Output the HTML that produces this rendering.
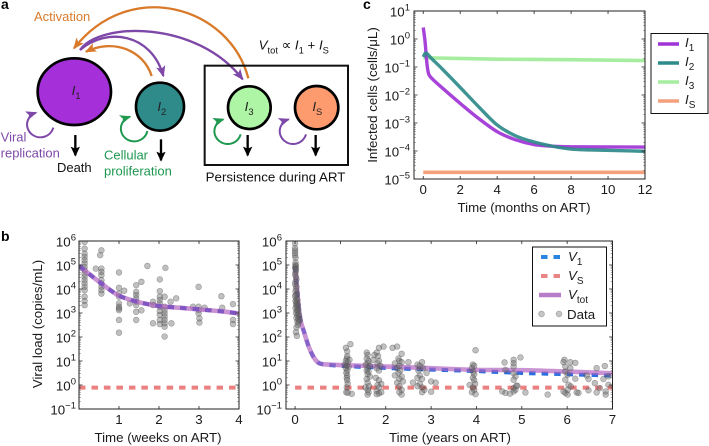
<!DOCTYPE html>
<html lang="en">
<head>
<meta charset="utf-8">
<title>HIV infected-cell model figure</title>
<style>
html,body{margin:0;padding:0;background:#fff;}
svg{display:block;font-family:"Liberation Sans",sans-serif;fill:#1a1a1a;filter:blur(0.3px);}
</style>
</head>
<body>
<svg id="fig" width="709" height="446" viewBox="0 0 709 446" xmlns="http://www.w3.org/2000/svg">
<defs>
<marker id="mo" markerUnits="userSpaceOnUse" markerWidth="40" markerHeight="40" refX="30" refY="14" orient="auto"><path d="M0 0L34 14L0 28L8 14Z" fill="#d97a2b"/></marker>
<marker id="mp" markerUnits="userSpaceOnUse" markerWidth="40" markerHeight="40" refX="30" refY="14" orient="auto"><path d="M0 0L34 14L0 28L8 14Z" fill="#7d48a8"/></marker>
<marker id="mg" markerUnits="userSpaceOnUse" markerWidth="40" markerHeight="40" refX="30" refY="14" orient="auto"><path d="M0 0L34 14L0 28L8 14Z" fill="#1f9850"/></marker>
<marker id="mk" markerUnits="userSpaceOnUse" markerWidth="40" markerHeight="40" refX="26" refY="14" orient="auto"><path d="M0 0L30 14L0 28L6 14Z" fill="#000"/></marker>
<clipPath id="clip-c"><rect x="414" y="11" width="231" height="168"/></clipPath>
<clipPath id="clip-bl"><rect x="79" y="241" width="160" height="168"/></clipPath>
<clipPath id="clip-br"><rect x="286" y="241" width="327" height="168"/></clipPath>
</defs>

<text x="1" y="9" font-size="14" font-weight="bold" fill="#000">a</text>
<text x="1" y="241" font-size="14" font-weight="bold" fill="#000">b</text>
<text x="363" y="9" font-size="14" font-weight="bold" fill="#000">c</text>

<g transform="scale(0.33333)">
  <path d="M745 235C690 20 390 -70 222 145" fill="none" stroke="#d97a2b" stroke-width="7" marker-end="url(#mo)"/>
  <path d="M240 150C300 65 590 60 728 238" fill="none" stroke="#7d48a8" stroke-width="7" marker-end="url(#mp)"/>
  <path d="M240 150C320 80 455 100 490 228" fill="none" stroke="#7d48a8" stroke-width="7" marker-end="url(#mp)"/>
  <path d="M455 228C430 150 340 115 258 155" fill="none" stroke="#d97a2b" stroke-width="7" marker-end="url(#mo)"/>

  <rect x="614" y="197" width="430" height="298" fill="none" stroke="#111" stroke-width="6"/>

  <ellipse cx="223" cy="275" rx="110" ry="100" fill="#a52fd8" stroke="#000" stroke-width="8"/>
  <circle cx="480" cy="320" r="72" fill="#2f8a8a" stroke="#000" stroke-width="8"/>
  <circle cx="748" cy="323" r="64" fill="#aef5a5" stroke="#000" stroke-width="8"/>
  <circle cx="950" cy="323" r="65" fill="#fd9a6e" stroke="#000" stroke-width="8"/>

  <g font-size="40" fill="#222">
    <text x="215" y="285"><tspan font-style="italic">I</tspan><tspan dy="12" font-size="28">1</tspan></text>
    <text x="472" y="333"><tspan font-style="italic">I</tspan><tspan dy="12" font-size="28">2</tspan></text>
    <text x="734" y="333"><tspan font-style="italic">I</tspan><tspan dy="12" font-size="28">3</tspan></text>
    <text x="937" y="333"><tspan font-style="italic">I</tspan><tspan dy="12" font-size="28">S</tspan></text>
  </g>

  <path d="M160 383A40 38 0 1 1 108 338" fill="none" stroke="#7d48a8" stroke-width="6" marker-end="url(#mp)"/>
  <path d="M442 393A40 38 0 1 1 390 350" fill="none" stroke="#1f9850" stroke-width="6" marker-end="url(#mg)"/>
  <path d="M722 403A40 38 0 1 1 670 358" fill="none" stroke="#1f9850" stroke-width="6" marker-end="url(#mg)"/>
  <path d="M918 403A40 38 0 1 1 866 358" fill="none" stroke="#7d48a8" stroke-width="6" marker-end="url(#mp)"/>

  <path d="M226 405V466" stroke="#000" stroke-width="7" marker-end="url(#mk)"/>
  <path d="M483 418V481" stroke="#000" stroke-width="7" marker-end="url(#mk)"/>
  <path d="M743 405V466" stroke="#000" stroke-width="7" marker-end="url(#mk)"/>
  <path d="M947 405V466" stroke="#000" stroke-width="7" marker-end="url(#mk)"/>

  <text x="102" y="63" font-size="39" fill="#d97a2b">Activation</text>
  <text x="2" y="424" font-size="39" fill="#7d48a8">Viral</text>
  <text x="2" y="473" font-size="39" fill="#7d48a8">replication</text>
  <text x="171" y="516" font-size="39" fill="#111">Death</text>
  <text x="312" y="478" font-size="39" fill="#1f9850">Cellular</text>
  <text x="312" y="526" font-size="39" fill="#1f9850">proliferation</text>
  <text x="617" y="545" font-size="40" fill="#111">Persistence during ART</text>
  <text x="776" y="148" font-size="40" fill="#111"><tspan font-style="italic">V</tspan><tspan dy="12" font-size="28">tot</tspan><tspan dy="-12"> ∝ </tspan><tspan font-style="italic">I</tspan><tspan dy="12" font-size="28">1</tspan><tspan dy="-12"> + </tspan><tspan font-style="italic">I</tspan><tspan dy="12" font-size="28">S</tspan></text>
</g>

<g id="chart-c"></g>
<g id="chart-bl"></g>
<g id="chart-br"></g>

<g>
  <rect x="651" y="33.5" width="57" height="80" fill="#fff" stroke="#111" stroke-width="1"/>
  <line x1="658" x2="679" y1="44" y2="44" stroke="#a033d6" stroke-width="3.6"/>
  <line x1="658" x2="679" y1="63" y2="63" stroke="#2f8a8a" stroke-width="3.6"/>
  <line x1="658" x2="679" y1="82" y2="82" stroke="#a6eda0" stroke-width="3.6"/>
  <line x1="658" x2="679" y1="101" y2="101" stroke="#f4a07c" stroke-width="3.6"/>
  <g font-size="13.3">
    <text x="685" y="47"><tspan font-style="italic">I</tspan><tspan dy="4" font-size="10">1</tspan></text>
    <text x="685" y="66"><tspan font-style="italic">I</tspan><tspan dy="4" font-size="10">2</tspan></text>
    <text x="685" y="85"><tspan font-style="italic">I</tspan><tspan dy="4" font-size="10">3</tspan></text>
    <text x="685" y="104"><tspan font-style="italic">I</tspan><tspan dy="4" font-size="10">S</tspan></text>
  </g>
</g>

<g>
  <rect x="532.5" y="247" width="74" height="79" fill="#fff" stroke="#111" stroke-width="1"/>
  <line x1="541" x2="561" y1="257" y2="257" stroke="#2a85e0" stroke-width="4" stroke-dasharray="6.5 6"/>
  <line x1="541" x2="561" y1="276" y2="276" stroke="#ea8585" stroke-width="4" stroke-dasharray="6.5 6"/>
  <line x1="539" x2="561" y1="295" y2="295" stroke="#b87cc8" stroke-width="4.5"/>
  <circle cx="541.5" cy="314" r="2.9" fill="rgba(110,110,110,.4)" stroke="rgba(70,70,70,.45)" stroke-width=".6"/>
  <circle cx="559" cy="314" r="2.9" fill="rgba(110,110,110,.4)" stroke="rgba(70,70,70,.45)" stroke-width=".6"/>
  <g font-size="13.3">
    <text x="568" y="261"><tspan font-style="italic">V</tspan><tspan dy="4" font-size="10">1</tspan></text>
    <text x="568" y="280"><tspan font-style="italic">V</tspan><tspan dy="4" font-size="10">S</tspan></text>
    <text x="568" y="299"><tspan font-style="italic">V</tspan><tspan dy="4" font-size="10">tot</tspan></text>
    <text x="567" y="319">Data</text>
  </g>
</g>

<script>
// ----- Panel c data (time in months, log10 infected cells per uL) -----
const cI1Months = [0, 0.1, 0.2, 0.3, 0.5, 1, 2, 3, 4, 5, 6, 7, 8, 12];
const cI1Log = [0.41, -0.1, -0.88, -1.26, -1.43, -1.73, -2.3, -2.84, -3.31, -3.6, -3.77, -3.83, -3.85, -3.86];
const cI2Months = [0, 0.1, 0.2, 0.5, 1, 2, 3, 4, 5, 6, 7, 8, 9, 12];
const cI2Log = [-0.64, -0.52, -0.52, -0.73, -1.05, -1.73, -2.42, -3.07, -3.46, -3.68, -3.83, -3.93, -3.96, -4.01];
const cI3Months = [0, 4, 8, 12];
const cI3Log = [-0.67, -0.72, -0.74, -0.77];
const cISMonths = [0, 12];
const cISLog = [-4.76, -4.76];
const cXTicks = [0, 2, 4, 6, 8, 10, 12];
const cYExponents = [1, 0, -1, -2, -3, -4, -5];

// ----- Panel b model curves -----
const vWeeks = [0, 0.56, 1, 1.5, 2, 2.5, 3, 3.5, 4];
const vWeeksLog = [4.96, 4.23, 3.72, 3.45, 3.29, 3.22, 3.15, 3.08, 2.98];
const vYears = [0, 0.1, 0.2, 0.3, 0.4, 0.5, 0.6, 1, 2, 3, 4, 5, 6, 7];
const vTotYearsLog = [4.96, 2.9, 2.2, 1.6, 1.19, 0.95, 0.87, 0.83, 0.77, 0.7, 0.63, 0.62, 0.56, 0.49];
const v1YearsLog = [4.96, 2.9, 2.2, 1.6, 1.19, 0.95, 0.87, 0.8, 0.71, 0.64, 0.58, 0.5, 0.45, 0.39];
const vSLog = [-0.11, -0.11];
const blXRange = [0, 4];
const brXRange = [-0.2, 7];
const blXTicks = [1, 2, 3, 4];
const brXTicks = [0, 1, 2, 3, 4, 5, 6, 7];
const bYExponents = [6, 5, 4, 3, 2, 1, 0, -1];

// ----- Panel b measured data -----
const dataWeeks = [0.14,0.14,0.14,0.14,0.14,0.14,0.14,0.14,0.14,0.14,0.14,0.14,0.14,0.14,0.14,0.14,0.14,
0.56,0.53,0.56,0.56,0.56,0.56,0.56,0.56,0.56,0.56,0.42,
1,1,1,1,1,1,1,1,1,1,1.13,1.27,
1.43,1.43,1.43,1.43,1.43,1.43,1.43,1.43,1.56,1.56,1.71,2.16,
2.02,2.02,2.02,2.02,2.02,2.02,2.02,2.02,2.02,2.02,1.85,1.85,1.85,
2.14,2.14,2.14,2.14,2.14,2.14,2.14,2.14,2.14,2.31,2.29,2.43,
2.85,2.99,2.99,2.99,2.99,3.01,3.01,3.14,3.56,3.58,3.85,3.85,3.85];
const dataWeeksLog = [5.96,5.68,5.47,5.34,5.2,5.06,4.92,4.78,4.64,4.51,4.37,4.23,4.09,3.95,3.68,3.5,3.33,
5.61,5.41,4.85,4.71,4.58,4.37,4.23,4.09,3.95,3.81,4.85,
4.69,4.05,3.81,3.68,3.4,3.26,3.19,3.12,2.71,2.18,3.93,3.4,
4.16,3.88,3.75,3.61,3.47,3.33,3.05,2.71,4.3,3.11,4.96,4.88,
4.4,3.91,3.68,3.54,3.4,3.26,3.08,2.92,2.71,2.54,3.47,3.33,2.57,
3.68,3.26,3.12,2.98,2.85,2.71,2.57,2.43,2.02,2.57,3.47,3.61,
3.26,4.09,3.26,3.12,2.98,2.78,2.6,3.22,3.7,3.22,3.37,2.71,2.54];

const dataYears = [0,0,0,0,0,0.01,0.01,0.01,0.02,0,0.01,0.02,0.01,0,0.02,0.03,0.01,0,0.03,0.02,0.01,0.04,0.02,0,0.03,0.05,0.01,0.04,0.02,0.06,0.03,0.05,0.01,0.07,0.04,0.06,0.02,0.08,0.05,0.09,0.03,0.07,0.1,0.05,0.08,0.06,0.03,0.02,0.04,
1.12,1.15,1.22,1.15,1.14,1.12,1.16,1.1,1.14,1.18,1.12,1.15,1.13,1.15,1.14,1.15,1.16,1.14,1.13,1.25,1.16,1.2,
1.58,1.6,1.58,1.62,1.6,1.56,1.65,1.6,1.58,1.62,1.6,1.65,1.58,1.6,1.63,1.55,1.6,1.62,1.6,
1.95,1.85,1.8,1.75,1.83,1.72,1.85,1.82,1.88,1.8,1.85,1.78,1.85,1.9,1.82,1.85,1.8,1.9,1.85,1.8,
2.15,2.25,2.35,2.28,2.3,2.2,2.35,2.5,2.3,2.25,2.32,2.28,2.2,2.35,2.3,2.38,2.25,2.3,2.35,2.3,2.35,
2.8,2.7,2.75,2.82,2.72,2.9,2.75,2.7,2.8,2.6,2.75,2.7,2.8,2.85,2.8,3,3.1,3,
3.98,3.92,3.95,3.9,3.93,3.95,3.92,3.95,3.85,3.92,3.95,3.9,3.98,3.97,
4.97,4.62,4.82,4.82,4.82,4.64,4.82,4.86,4.82,4.88,4.82,4.86,4.82,4.57,4.64,4.74,5.08,4.9,
5.94,5.92,6.07,6.18,5.96,6.07,5.96,6.01,5.96,6.03,6.08,6.01,5.92,5.96,6.01,6.21,6.18,5.57,6.25,
6.65,6.83,6.43,6.47,6.61,6.72,6.47,6.65,6.85,6.8,6.91,6.91,6.85];
const dataYearsLog = [5.9,5.7,5.6,5.5,5.4,5.3,5.1,5,4.95,4.9,4.85,4.8,4.7,4.6,4.5,4.4,4.3,4.2,4.1,4,3.9,3.8,3.75,3.7,3.6,3.55,3.5,3.45,3.4,3.35,3.3,3.25,3.2,3.15,3.1,3.05,3,2.95,2.9,2.85,2.8,2.75,2.7,2.65,2.6,2.5,2.4,2.2,2.05,
1.55,1.4,1.7,1.2,1.1,1,0.95,0.85,0.8,0.75,0.7,0.6,0.5,0.4,0.3,0.2,0.05,-0.1,-0.3,-0.37,-0.32,1.05,
1.35,1.25,1.1,1,0.9,0.85,0.8,0.7,0.6,0.55,0.45,0.35,0.25,0.1,-0.05,-0.1,-0.2,-0.3,-0.4,
1.6,1.55,1.35,1.25,1.2,1.05,1,0.9,0.8,0.7,0.6,0.3,0.2,0.05,0,-0.1,-0.25,-0.3,-0.35,-0.38,
1.55,1.6,1.3,1.1,1,0.9,0.95,0.95,0.8,0.7,0.6,0.5,0.4,0.35,0.25,0.15,0.1,-0.05,-0.2,-0.3,-0.4,
0.95,0.85,0.8,0.7,0.6,0.5,0.4,0.3,0.25,0.1,0.05,-0.05,-0.1,-0.2,-0.3,0.15,0.1,-0.28,
1.45,0.85,0.8,0.7,0.55,0.45,0.3,0.2,0,-0.1,-0.2,-0.3,-0.38,0.05,
1.15,0.94,1.05,0.91,0.77,0.63,0.49,0.36,0.22,-0.03,-0.13,-0.2,-0.27,-0.27,-0.33,-0.36,-0.31,-0.03,
1.05,0.95,0.95,0.92,0.77,0.7,0.56,0.43,0.22,0.01,-0.06,-0.2,-0.27,-0.33,-0.4,-0.31,0.26,-0.4,-0.33,
0.7,0.79,0.4,0.25,0.08,-0.13,-0.22,-0.31,-0.4,0.25,0.36,0.01,-0.27];

const NS = 'http://www.w3.org/2000/svg';
function mk(parent, tag, attrs) {
  const el = document.createElementNS(NS, tag);
  for (const k in attrs) el.setAttribute(k, attrs[k]);
  parent.appendChild(el);
  return el;
}
function smoothPath(xs, ys) {
  let d = 'M' + xs[0].toFixed(2) + ' ' + ys[0].toFixed(2);
  for (let i = 0; i < xs.length - 1; i++) {
    const x0 = xs[Math.max(i - 1, 0)], y0 = ys[Math.max(i - 1, 0)];
    const x1 = xs[i], y1 = ys[i], x2 = xs[i + 1], y2 = ys[i + 1];
    const x3 = xs[Math.min(i + 2, xs.length - 1)], y3 = ys[Math.min(i + 2, xs.length - 1)];
    const k = 0.14;
    d += 'C' + (x1 + (x2 - x0) * k).toFixed(2) + ' ' + (y1 + (y2 - y0) * k).toFixed(2) + ' ' +
      (x2 - (x3 - x1) * k).toFixed(2) + ' ' + (y2 - (y3 - y1) * k).toFixed(2) + ' ' +
      x2.toFixed(2) + ' ' + y2.toFixed(2);
  }
  return d;
}
function makeAxes(box, xRange, yTop, yBottom) {
  const sx = v => box.x + (v - xRange[0]) / (xRange[1] - xRange[0]) * box.w;
  const sy = v => box.y + (yTop - v) / (yTop - yBottom) * box.h;
  return { sx, sy };
}
function drawFrame(g, box, ax, xTicks, exps, xTitle, xTitleX, yTitle, tickLabelY, xTitleY, labelRight, yTitleX) {
  const frame = mk(g, 'rect', { x: box.x, y: box.y, width: box.w, height: box.h, fill: 'none', stroke: '#222', 'stroke-width': 1 });
  
  
  xTicks.forEach(t => {
    const x = ax.sx(t);
    const tick = mk(g, 'path', { d: 'M' + x + ' ' + (box.y + box.h) + 'v-3M' + x + ' ' + box.y + 'v3', stroke: '#222', 'stroke-width': 0.8 });
    
    
    const lab = mk(g, 'text', { x: x, y: tickLabelY, 'font-size': 13.3, 'text-anchor': 'middle' });
    
    
    lab.textContent = t;
  });
  exps.forEach((e, idx) => {
    const y = ax.sy(e);
    const tick = mk(g, 'path', { d: 'M' + box.x + ' ' + y + 'h3.5M' + (box.x + box.w) + ' ' + y + 'h-3.5', stroke: '#222', 'stroke-width': 0.8 });
    
    
    const lab = mk(g, 'text', { x: labelRight, y: y + 5.5, 'font-size': 13.3, 'text-anchor': 'end' });
    
    
    const base = mk(lab, 'tspan', {});
    base.textContent = '10';
    const sup = mk(lab, 'tspan', { dy: -6, 'font-size': 9.5 });
    sup.textContent = e < 0 ? '\u2212' + (-e) : String(e);
    if (idx === exps.length - 1) return;
    for (let m = 2; m < 10; m++) {
      const yy = ax.sy(e - 1 + Math.log10(m));
      const minor = mk(g, 'path', { d: 'M' + box.x + ' ' + yy + 'h1.8M' + (box.x + box.w) + ' ' + yy + 'h-1.8', stroke: '#444', 'stroke-width': 0.5 });
      
      
    }
  });
  const xt = mk(g, 'text', { x: xTitleX, y: xTitleY, 'font-size': 13.3, 'text-anchor': 'middle' });
  
  
  xt.textContent = xTitle;
  if (yTitle) {
    const cy = yTitle.cy;
    const yt = mk(g, 'text', { x: yTitleX, y: cy, 'font-size': 13.3, 'text-anchor': 'middle', transform: 'rotate(-90 ' + yTitleX + ' ' + cy + ')' });
    
    
    yt.textContent = yTitle.text;
  }
}
function drawLine(g, ax, xs, ys, style) {
  const attrs = Object.assign({ fill: 'none', 'stroke-linejoin': 'round', d: smoothPath(xs.map(ax.sx), ys.map(ax.sy)) }, style);
  return mk(g, 'path', attrs);
}
function drawDots(g, ax, xs, ys) {
  xs.forEach((x, i) => {
    const dot = mk(g, 'circle', { cx: ax.sx(x), cy: ax.sy(ys[i]), r: 2.9, fill: 'rgba(105,105,105,.42)', stroke: 'rgba(70,70,70,.45)', 'stroke-width': 0.6 });
    
    
  });
}

// Panel c
(function () {
  const g = document.getElementById('chart-c');
  const box = { x: 414, y: 11, w: 231, h: 168 };
  const ax = makeAxes(box, [-0.5, 12], 1, -5);
  const plot = mk(g, 'g', { 'clip-path': 'url(#clip-c)' });
  const l3 = drawLine(plot, ax, cI3Months, cI3Log, { stroke: '#a6eda0', 'stroke-width': 3.6 });
  
  
  const lS = drawLine(plot, ax, cISMonths, cISLog, { stroke: '#f4a07c', 'stroke-width': 3.6 });
  
  
  const l1 = drawLine(plot, ax, cI1Months, cI1Log, { stroke: '#a033d6', 'stroke-width': 3.4, opacity: 0.92 });
  
  
  const l2 = drawLine(plot, ax, cI2Months, cI2Log, { stroke: '#2f8a8a', 'stroke-width': 3.4, opacity: 0.92 });
  
  
  drawFrame(g, box, ax, cXTicks, cYExponents, 'Time (months on ART)', 524, { text: 'Infected cells (cells/\u03BCL)', cy: 95 }, 194, 212, 410, 377);
})();

// Panel b, weeks
(function () {
  const g = document.getElementById('chart-bl');
  const box = { x: 79, y: 241, w: 160, h: 168 };
  const ax = makeAxes(box, blXRange, 6, -1);
  const plot = mk(g, 'g', { 'clip-path': 'url(#clip-bl)' });
  drawDots(plot, ax, dataWeeks, dataWeeksLog);
  const vs = drawLine(plot, ax, blXRange, vSLog, { stroke: '#ea8080', 'stroke-width': 4, 'stroke-dasharray': '6.5 6' });
  
  
  const v1 = drawLine(plot, ax, vWeeks, vWeeksLog, { stroke: '#1f3fc8', 'stroke-width': 4, 'stroke-dasharray': '6.5 6' });
  
  
  const vt = drawLine(plot, ax, vWeeks, vWeeksLog, { stroke: '#b060c0', 'stroke-width': 4.6, opacity: 0.68 });
  
  
  drawFrame(g, box, ax, blXTicks, bYExponents, 'Time (weeks on ART)', 158, { text: 'Viral load (copies/mL)', cy: 324 }, 424, 442, 76, 42);
})();

// Panel b, years
(function () {
  const g = document.getElementById('chart-br');
  const box = { x: 286, y: 241, w: 326.5, h: 168 };
  const ax = makeAxes(box, brXRange, 6, -1);
  const plot = mk(g, 'g', { 'clip-path': 'url(#clip-br)' });
  const vs = drawLine(plot, ax, [0, 7], vSLog, { stroke: '#ea8080', 'stroke-width': 4, 'stroke-dasharray': '6.5 6' });
  
  
  const v1 = drawLine(plot, ax, vYears, v1YearsLog, { stroke: '#2a6fe0', 'stroke-width': 4, 'stroke-dasharray': '6.5 6' });
  
  
  const vt = drawLine(plot, ax, vYears, vTotYearsLog, { stroke: '#b060c0', 'stroke-width': 4.6, opacity: 0.68 });
  
  
  drawDots(plot, ax, dataYears, dataYearsLog);
  drawFrame(g, box, ax, brXTicks, bYExponents, 'Time (years on ART)', 450, null, 424, 442, 282, 0);
})();
</script>
</svg>
</body>
</html>
